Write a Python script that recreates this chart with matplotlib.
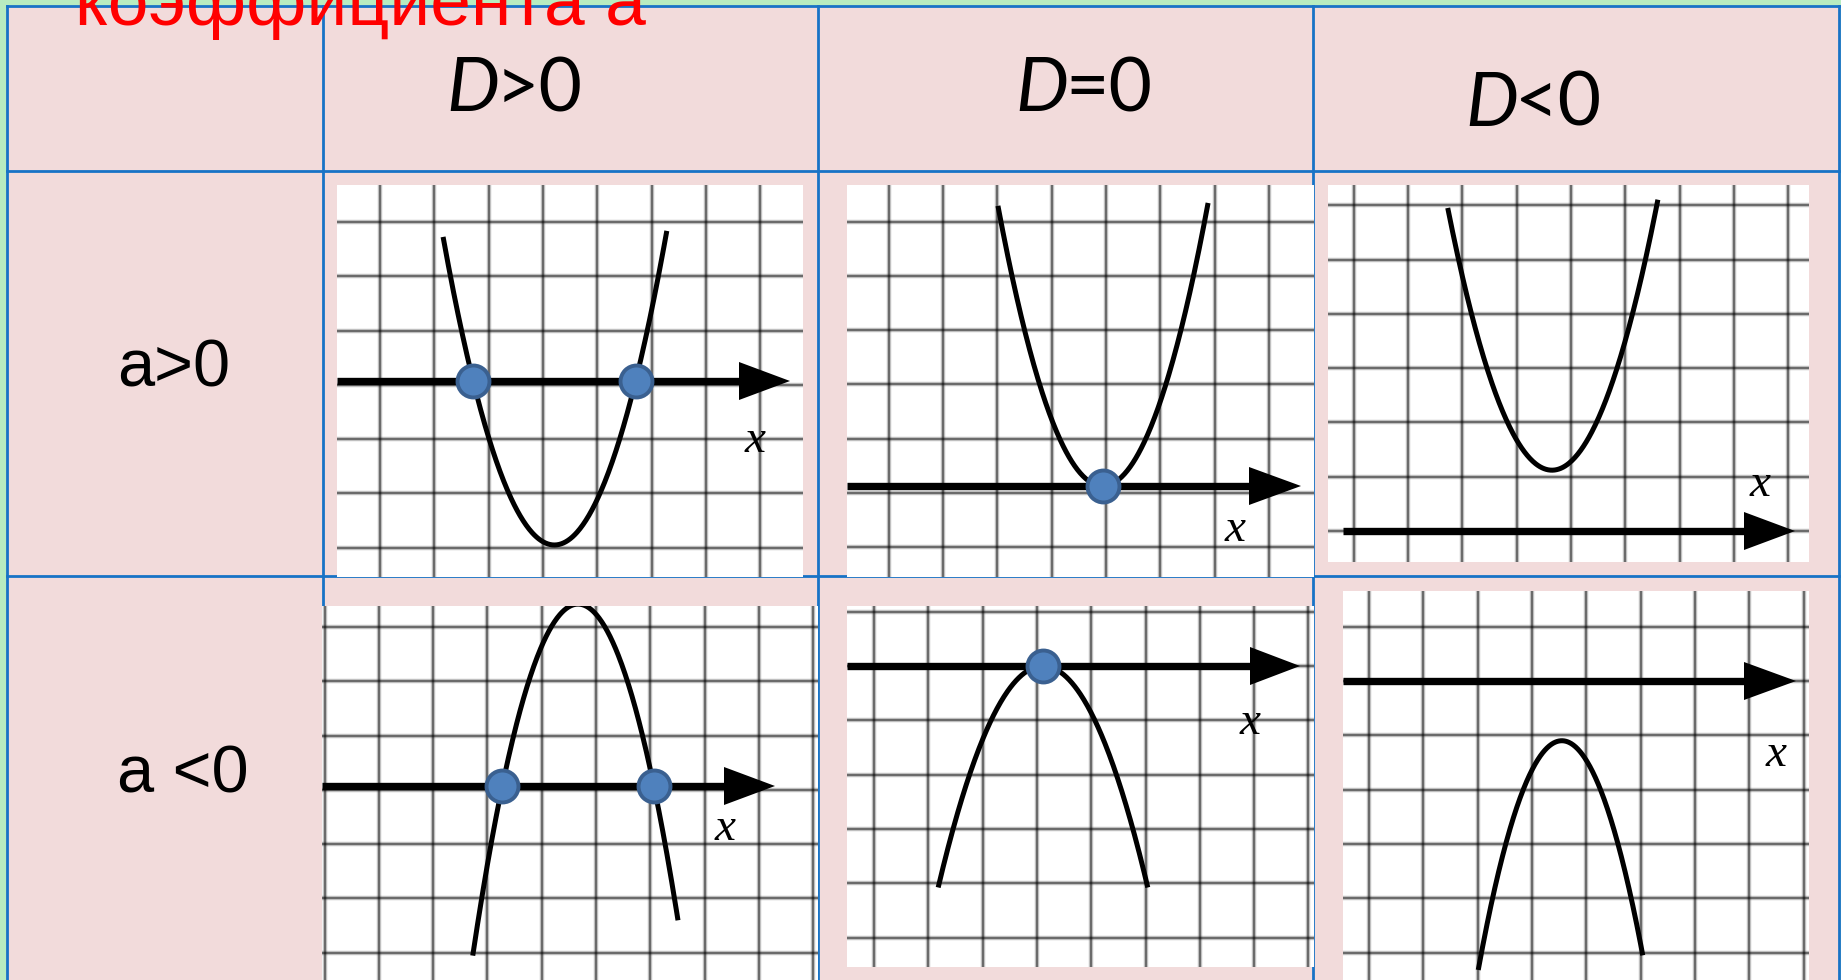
import matplotlib
matplotlib.use('Agg')
import matplotlib.pyplot as plt
import numpy as np

W, H = 1841, 980

# captions
title_text = 'коэффициента а'
disc_letter = 'D'
disc_signs = ['>0', '=0', '<0']
lead_signs = ['a>0', 'a <0']

# parabolas y = a*(x - h)**2 + k in grid cells, panels row by row
curv_a = [1.35, 1.385, 1.31, -1.72, -1.095, -1.78]
vert_h = [0.21, -0.06, -0.35, -0.33, 0.11, 0.55]
vert_k = [-3.02, 0.0, 1.12, 3.35, 0.0, -1.10]
x_from = [-1.84, -1.99, -2.27, -2.27, -1.82, -0.99]
x_to = [2.28, 1.88, 1.60, 1.51, 2.04, 2.04]

# layout (pixels): picture box l, t, r, b, grid x origin, axis y, grid y shift,
# axis start, arrow base, arrow tip
CELL = 54.3
panels = [
    (337, 185, 803, 577, 543, 381, -0.07, 337, 739, 790),
    (847, 185, 1314, 577, 1106, 486, -0.13, 847, 1249, 1301),
    (1328, 185, 1809, 562, 1571, 531, 0.0, 1343, 1744, 1795),
    (322, 606, 818, 980, 596, 786, -0.07, 322, 724, 775),
    (847, 606, 1314, 967, 1037, 666, 0.0, 847, 1250, 1300),
    (1343, 591, 1809, 980, 1532, 681, 0.0, 1343, 1744, 1796),
]
xlabel_pos = [(3.90, -1.30), (2.38, -1.02), (3.48, 0.64),
              (2.38, -1.00), (3.92, -1.26), (4.49, -1.57)]

GREEN = '#b8ecc0'
PINK = '#f2dbdb'
BLUE = '#1873c6'

fig = plt.figure(figsize=(W / 100, H / 100), dpi=100, facecolor=GREEN)

# table background
bg = fig.add_axes([0, 0, 1, 1])
bg.set_xlim(0, W)
bg.set_ylim(H, 0)
bg.axis('off')
bg.fill([7, 1839, 1839, 7], [6, 6, H, H], color=PINK, zorder=0)
for xv in [7, 323, 818, 1313, 1839]:
    bg.plot([xv, xv], [6, H], color=BLUE, lw=2, zorder=1)
for yv in [6, 171, 576]:
    bg.plot([7, 1839], [yv, yv], color=BLUE, lw=2, zorder=1)

# header: italic D + sign
for jx, by, sign in zip([499, 1068, 1518], [111, 111, 126], disc_signs):
    bg.text(jx, by, disc_letter, family='Lato', style='italic', fontsize=54,
            ha='right', va='baseline')
    bg.text(jx - 3, by, sign, family='Lato', fontsize=54, ha='left', va='baseline')

for by, lab in zip([386, 792], lead_signs):
    bg.text(117, by, lab, family='Liberation Sans', fontsize=48, ha='left', va='baseline')

# graph-paper pictures
for i, (l, t, r, b, gx, gy, yoff, xs, xb, xt) in enumerate(panels):
    ax = fig.add_axes([l / W, 1 - b / H, (r - l) / W, (b - t) / H])
    ax.set_xlim((l - gx) / CELL, (r - gx) / CELL)
    ax.set_ylim((gy - b) / CELL, (gy - t) / CELL)
    ax.set_facecolor('white')
    for s in ax.spines.values():
        s.set_visible(False)
    ax.set_xticks([])
    ax.set_yticks([])

    x0, x1 = ax.get_xlim()
    y0, y1 = ax.get_ylim()
    for v in np.arange(np.ceil(x0), x1):
        ax.axvline(v, color='k', lw=3.2, alpha=0.25, zorder=1)
        ax.axvline(v, color='k', lw=1.4, alpha=0.45, zorder=1)
    for v in np.arange(np.ceil(y0 - yoff), y1 - yoff):
        ax.axhline(v + yoff, color='k', lw=3.2, alpha=0.25, zorder=1)
        ax.axhline(v + yoff, color='k', lw=1.4, alpha=0.45, zorder=1)

    # x axis with arrow
    ax.plot([(xs - gx) / CELL, (xb - gx) / CELL + 0.05], [0, 0], color='k', lw=5.3,
            solid_capstyle='butt', zorder=3)
    ax.fill([(xb - gx) / CELL, (xt - gx) / CELL, (xb - gx) / CELL], [0.35, 0, -0.35],
            color='k', lw=0, zorder=3)

    a, h, k = curv_a[i], vert_h[i], vert_k[i]
    xx = np.linspace(x_from[i], x_to[i], 300)
    ax.plot(xx, a * (xx - h) ** 2 + k, color='k', lw=3.6, solid_capstyle='butt', zorder=4)

    q = -k / a
    if abs(k) < 1e-9:
        roots = [h]
    elif q > 0:
        roots = [h - np.sqrt(q), h + np.sqrt(q)]
    else:
        roots = []
    if roots:
        ax.plot(roots, [0] * len(roots), 'o', ms=23, mfc='#4f81bd', mec='#3a6090',
                mew=2.8, zorder=5, clip_on=False)

    lx, ly = xlabel_pos[i]
    ax.text(lx, ly, 'x', family='Liberation Serif', style='italic', fontsize=34,
            ha='center', va='baseline', zorder=6)

bg.text(75, 25, title_text, color='#ff0000', family='Liberation Sans', fontsize=52.7,
        ha='left', va='baseline', zorder=10)
bg.set_zorder(0)

fig.savefig('out.png', dpi=100, facecolor=GREEN)
